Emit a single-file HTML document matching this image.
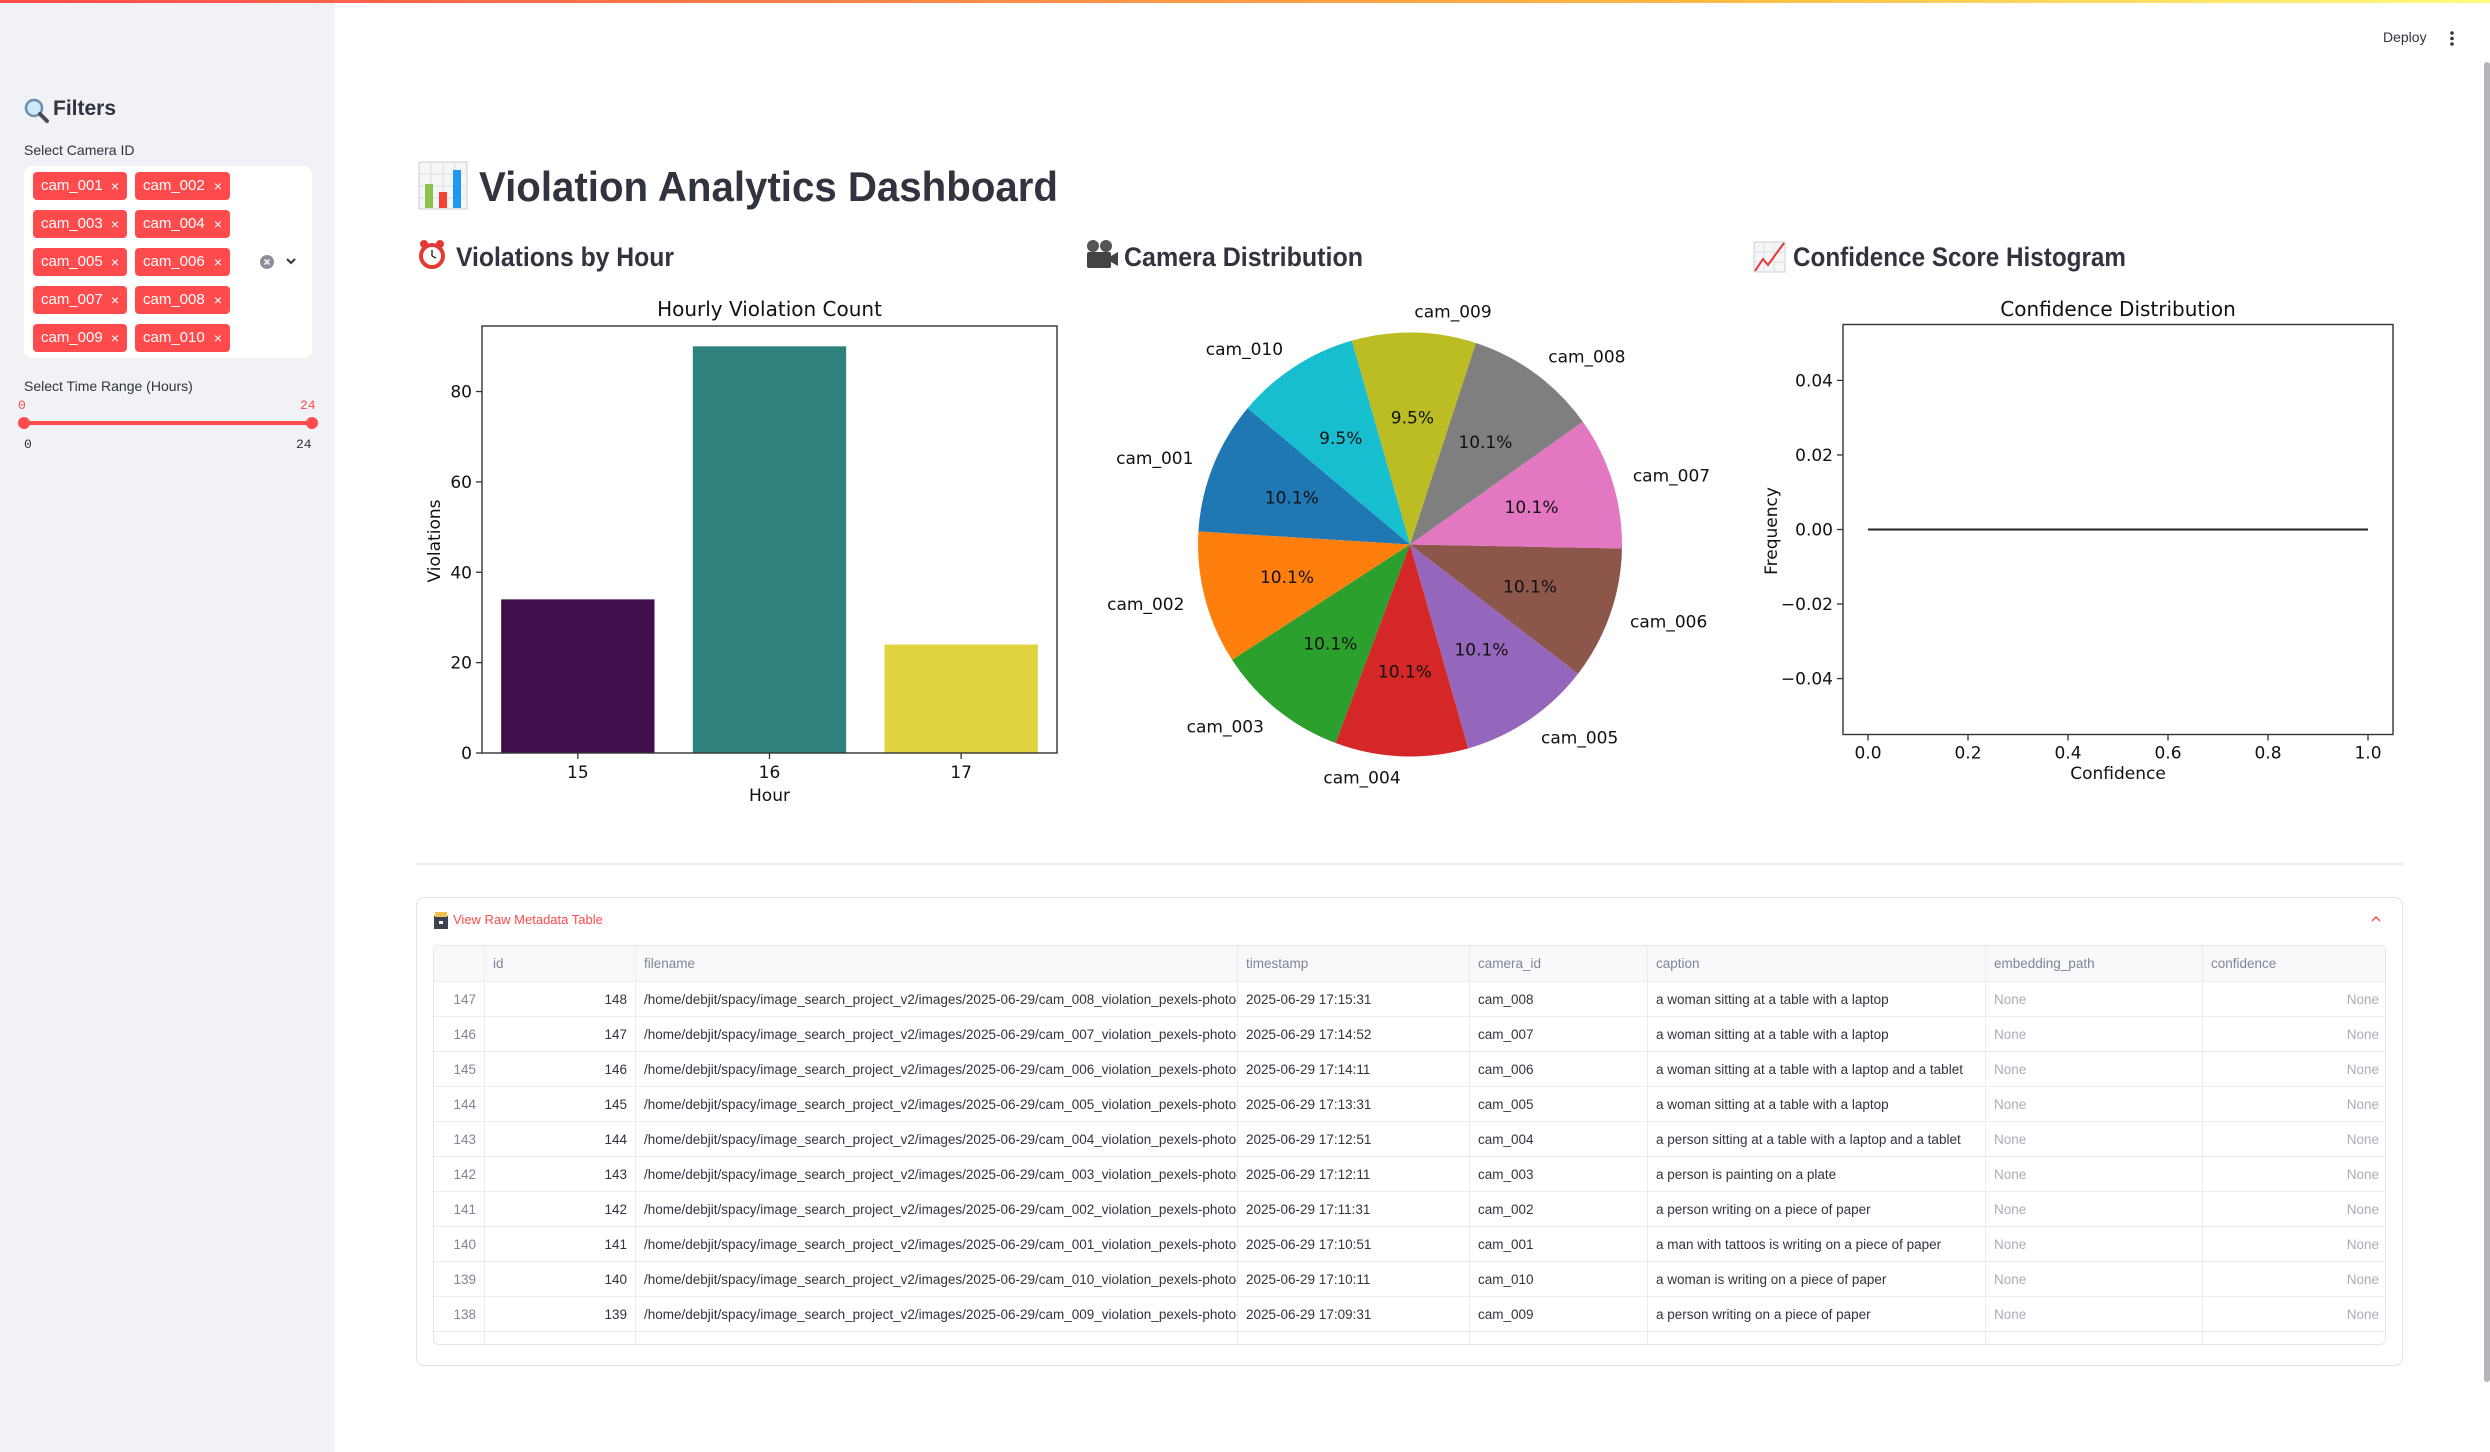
<!DOCTYPE html>
<html><head><meta charset="utf-8">
<style>
*{margin:0;padding:0;box-sizing:border-box}
body{width:2490px;height:1452px;overflow:hidden;background:#fff;font-family:"Liberation Sans",sans-serif;color:#31333f;position:relative}
.abs{position:absolute}
#topbar{left:0;top:0;width:2490px;height:3px;background:linear-gradient(90deg,#ff4b4b,#ffbd45 70%,#fffd80);z-index:5}
#sidebar{left:0;top:0;width:335px;height:1452px;background:#f0f2f6}
.tag{position:absolute;height:28px;background:#ff4b4b;border-radius:4px;color:#fff;font-family:"Liberation Sans Narrow","Liberation Sans",sans-serif;font-size:15px;line-height:28px;padding-left:8px}
.tag span{position:absolute;right:8px;top:0;font-size:14px}
.lbl{font-size:14px;color:#31333f}
.mono{font-family:"Liberation Mono",monospace;font-size:14px}
.cell{position:absolute;height:35px;line-height:35px;font-family:"Liberation Sans Narrow","Liberation Sans",sans-serif;font-size:13.5px;white-space:nowrap;overflow:hidden;padding:0 8px;border-right:1px solid #ececef;border-bottom:1px solid #ececef}
</style></head>
<body>
<div id="sidebar" class="abs">
  <svg class="abs" style="left:24px;top:98px" width="26" height="26"><circle cx="10" cy="10" r="8" fill="#cfe8fb" stroke="#6a8fb0" stroke-width="2.5"/><line x1="16" y1="16" x2="23" y2="23" stroke="#4a4a55" stroke-width="4" stroke-linecap="round"/></svg>
  <div class="abs" style="left:53px;top:97px;font-size:21px;font-weight:bold">Filters</div>
  <div class="abs lbl" style="left:24px;top:142px">Select Camera ID</div>
  <div class="abs" style="left:24px;top:166px;width:288px;height:192px;background:#fff;border-radius:8px">
    <div class="tag" style="left:9px;top:6px;width:94px">cam_001<span>×</span></div>
    <div class="tag" style="left:111px;top:6px;width:95px">cam_002<span>×</span></div>
    <div class="tag" style="left:9px;top:44px;width:94px">cam_003<span>×</span></div>
    <div class="tag" style="left:111px;top:44px;width:95px">cam_004<span>×</span></div>
    <div class="tag" style="left:9px;top:82px;width:94px">cam_005<span>×</span></div>
    <div class="tag" style="left:111px;top:82px;width:95px">cam_006<span>×</span></div>
    <div class="tag" style="left:9px;top:120px;width:94px">cam_007<span>×</span></div>
    <div class="tag" style="left:111px;top:120px;width:95px">cam_008<span>×</span></div>
    <div class="tag" style="left:9px;top:158px;width:94px">cam_009<span>×</span></div>
    <div class="tag" style="left:111px;top:158px;width:95px">cam_010<span>×</span></div>
    <svg class="abs" style="left:236px;top:88px" width="40" height="16"><circle cx="7" cy="8" r="7" fill="#8d8e98"/><path d="M4.5 5.5l5 5M9.5 5.5l-5 5" stroke="#fff" stroke-width="1.5"/><path d="M27 5l4 4 4-4" fill="none" stroke="#31333f" stroke-width="2"/></svg>
  </div>
  <div class="abs lbl" style="left:24px;top:378px">Select Time Range (Hours)</div>
  <div class="abs mono" style="left:18px;top:398px;color:#ff4b4b;font-size:13px">0</div>
  <div class="abs mono" style="left:300px;top:398px;color:#ff4b4b;font-size:13px">24</div>
  <div class="abs" style="left:24px;top:421px;width:288px;height:4px;background:#ff4b4b;border-radius:2px"></div>
  <div class="abs" style="left:18px;top:417px;width:12px;height:12px;background:#ff4b4b;border-radius:50%"></div>
  <div class="abs" style="left:306px;top:417px;width:12px;height:12px;background:#ff4b4b;border-radius:50%"></div>
  <div class="abs mono" style="left:24px;top:437px;font-size:13px">0</div>
  <div class="abs mono" style="left:296px;top:437px;font-size:13px">24</div>
</div>
<div id="topbar" class="abs"></div>
<div class="abs" style="left:2383px;top:29px;font-size:14px">Deploy</div>
<svg class="abs" style="left:2448px;top:30px" width="8" height="18"><circle cx="4" cy="3" r="1.8" fill="#31333f"/><circle cx="4" cy="8.5" r="1.8" fill="#31333f"/><circle cx="4" cy="14" r="1.8" fill="#31333f"/></svg>
<div class="abs" style="left:2484px;top:62px;width:6px;height:1320px;background:#b4b4b9;border-radius:3px"></div>

<svg id="main" class="abs" style="left:0;top:0" width="2490" height="880" font-family="'DejaVu Sans',sans-serif">
  <g><rect x="419" y="162" width="48" height="47" fill="#f4f6f8" stroke="#c8ccd2"/><path d="M419 174h48M419 186h48M419 198h48M431 162v47M443 162v47M455 162v47" stroke="#dde1e6"/><rect x="425" y="184" width="8" height="24" fill="#8bc34a"/><rect x="439" y="192" width="8" height="16" fill="#f44336"/><rect x="453" y="170" width="8" height="38" fill="#2196f3"/></g>
  <text x="479" y="201" font-family="'Liberation Sans',sans-serif" font-weight="bold" font-size="42" fill="#31333f" textLength="579" lengthAdjust="spacingAndGlyphs">Violation Analytics Dashboard</text>
  <g><circle cx="432" cy="256" r="11" fill="#fff" stroke="#e53935" stroke-width="4"/><circle cx="424" cy="244" r="4" fill="#e53935"/><circle cx="440" cy="244" r="4" fill="#e53935"/><path d="M432 256v-6M432 256l4 2" stroke="#333" stroke-width="1.5"/></g>
  <text x="456" y="266" font-family="'Liberation Sans',sans-serif" font-weight="bold" font-size="27" fill="#31333f" textLength="218" lengthAdjust="spacingAndGlyphs">Violations by Hour</text>
  <g><circle cx="1093" cy="246" r="6" fill="#555"/><circle cx="1106" cy="246" r="6" fill="#555"/><rect x="1087" y="252" width="24" height="16" rx="2" fill="#444"/><path d="M1111 256l7-4v14l-7-4z" fill="#444"/></g>
  <text x="1124" y="266" font-family="'Liberation Sans',sans-serif" font-weight="bold" font-size="27" fill="#31333f" textLength="239" lengthAdjust="spacingAndGlyphs">Camera Distribution</text>
  <g><rect x="1754" y="242" width="31" height="30" fill="#f4f6f8" stroke="#cdd2d8"/><path d="M1754 252h31M1754 262h31M1764 242v30M1774 242v30" stroke="#dde1e6"/><path d="M1755 271l8-12 5 6 16-22" fill="none" stroke="#e53935" stroke-width="2"/></g>
  <text x="1793" y="266" font-family="'Liberation Sans',sans-serif" font-weight="bold" font-size="27" fill="#31333f" textLength="333" lengthAdjust="spacingAndGlyphs">Confidence Score Histogram</text>
  <g id="barChart"></g>
  <g id="pieChart"></g>
  <g id="histChart"></g>
  <line x1="416" y1="864" x2="2403" y2="864" stroke="#e6e6ea" stroke-width="1.5"/>
</svg>

<div class="abs" style="left:416px;top:897px;width:1987px;height:469px;border:1px solid #e2e3e8;border-radius:8px"></div>
<svg class="abs" style="left:433px;top:912px" width="16" height="18"><rect x="1" y="4" width="14" height="13" fill="#3c4250"/><rect x="2" y="0" width="12" height="5" fill="#f2c14e"/><rect x="6" y="9" width="4" height="3" fill="#fff"/></svg>
<div class="abs" style="left:453px;top:912px;font-size:13px;color:#ff4b4b;font-family:'Liberation Sans Narrow','Liberation Sans',sans-serif">View Raw Metadata Table</div>
<svg class="abs" style="left:2370px;top:914px" width="12" height="10"><path d="M2 7l4-4 4 4" fill="none" stroke="#ff4b4b" stroke-width="1.5"/></svg>
<div id="table" class="abs" style="left:433px;top:945px;width:1953px;height:400px;border:1px solid #e6e6ea;border-radius:6px;overflow:hidden"></div>

<script>
const NS='http://www.w3.org/2000/svg';
function mk(parent,tag,attrs,txt){const e=document.createElementNS(NS,tag);for(const k in attrs)e.setAttribute(k,attrs[k]);if(txt!==undefined)e.textContent=txt;parent.appendChild(e);return e;}

// ---------- Bar chart data ----------
const hours=['15','16','17'];
const violations=[34,90,24];
const barYTicks=[0,20,40,60,80];
const barColors=['#3f0e4b','#2e817c','#e1d23f'];
(function(){
  const g=document.getElementById('barChart');
  const L=482,R=1057,T=326,B=753;
  const ymax=Math.max(...violations)*1.05;
  const y=v=>B-(v/ymax)*(B-T);
  const step=(R-L)/hours.length;
  const x=i=>L+step*(i+0.5);
  violations.forEach((v,i)=>{
    const r=mk(g,'rect',{x:x(i)-step*0.4,y:y(v),width:step*0.8,height:B-y(v),fill:barColors[i%barColors.length]});
    
    
  });
  mk(g,'rect',{x:L,y:T,width:R-L,height:B-T,fill:'none',stroke:'#333',"stroke-width":1.4});
  barYTicks.forEach(t=>{
    mk(g,'line',{x1:L-6,x2:L,y1:y(t),y2:y(t),stroke:'#333',"stroke-width":1.3});
    const tx=mk(g,'text',{x:L-10,y:y(t)+6,"text-anchor":"end","font-size":17,fill:'#111'},String(t));
    
    
  });
  hours.forEach((h,i)=>{
    mk(g,'line',{x1:x(i),x2:x(i),y1:B,y2:B+6,stroke:'#333',"stroke-width":1.3});
    const tx=mk(g,'text',{x:x(i),y:B+25,"text-anchor":"middle","font-size":17,fill:'#111'},h);
    
    
  });
  const t1=mk(g,'text',{x:(L+R)/2,y:316,"text-anchor":"middle","font-size":20,fill:'#111'},'Hourly Violation Count');
  
  const t2=mk(g,'text',{x:(L+R)/2,y:801,"text-anchor":"middle","font-size":17,fill:'#111'},'Hour');
  
  const t3=mk(g,'text',{x:0,y:0,"text-anchor":"middle","font-size":17,fill:'#111',transform:'translate(440,541) rotate(-90)'},'Violations');
  
})();

// ---------- Pie chart data ----------
const cameras=['cam_001','cam_002','cam_003','cam_004','cam_005','cam_006','cam_007','cam_008','cam_009','cam_010'];
const cameraCounts=[15,15,15,15,15,15,15,15,14,14];
const pieColors=['#1f77b4','#ff7f0e','#2ca02c','#d62728','#9467bd','#8c564b','#e377c2','#7f7f7f','#bcbd22','#17becf'];
(function(){
  const g=document.getElementById('pieChart');
  const cx=1410,cy=544.5,r=212;
  const total=cameraCounts.reduce((a,b)=>a+b,0);
  let a=140;
  const pt=(deg,rr)=>[cx+rr*Math.cos(deg*Math.PI/180),cy-rr*Math.sin(deg*Math.PI/180)];
  cameraCounts.forEach((c,i)=>{
    const sweep=c/total*360;const a1=a+sweep;
    const p0=pt(a,r),p1=pt(a1,r);
    const s=mk(g,'path',{d:`M${cx},${cy}L${p0[0]},${p0[1]}A${r},${r} 0 ${sweep>180?1:0} 0 ${p1[0]},${p1[1]}Z`,fill:pieColors[i]});
    
    
    const mid=a+sweep/2;
    const lp=pt(mid,r*1.1);
    const lt=mk(g,'text',{x:lp[0],y:lp[1]+6,"text-anchor":Math.cos(mid*Math.PI/180)>0?'start':'end',"font-size":17,fill:'#111'},cameras[i]);
    
    
    const pp=pt(mid,r*0.6);
    const pc=mk(g,'text',{x:pp[0],y:pp[1]+6,"text-anchor":"middle","font-size":17,fill:'#111'},(c/total*100).toFixed(1)+'%');
    
    
    a=a1;
  });
})();

// ---------- Histogram data ----------
const confidenceValues=[];
const confXTicks=[0.0,0.2,0.4,0.6,0.8,1.0];
const freqYTicks=[-0.04,-0.02,0.00,0.02,0.04];
(function(){
  const g=document.getElementById('histChart');
  const L=1843,R=2393,T=324.5,B=734.5;
  const nb=10;const counts=new Array(nb).fill(0);
  confidenceValues.forEach(v=>{counts[Math.min(nb-1,Math.floor(v*nb))]++;});
  const cmax=Math.max(...counts);
  const y0=cmax>0?0:-0.055, y1=cmax>0?cmax*1.05:0.055;
  const x=v=>L+(v+0.05)/1.1*(R-L);
  const y=v=>B-(v-y0)/(y1-y0)*(B-T);
  counts.forEach((c,i)=>{
    const xa=x(i/nb),xb=x((i+1)/nb);
    const p=mk(g,'path',{d:`M${xa},${y(0)}L${xa},${y(c)}L${xb},${y(c)}L${xb},${y(0)}`,fill:c>0?'#1f77b4':'none',stroke:'#222',"stroke-width":2});
    
    
  });
  mk(g,'rect',{x:L,y:T,width:R-L,height:B-T,fill:'none',stroke:'#333',"stroke-width":1.4});
  freqYTicks.forEach(t=>{
    mk(g,'line',{x1:L-6,x2:L,y1:y(t),y2:y(t),stroke:'#333',"stroke-width":1.3});
    const tx=mk(g,'text',{x:L-10,y:y(t)+6,"text-anchor":"end","font-size":17,fill:'#111'},(t<0?'\u2212':'')+Math.abs(t).toFixed(2));
    
    
  });
  confXTicks.forEach(t=>{
    mk(g,'line',{x1:x(t),x2:x(t),y1:B,y2:B+6,stroke:'#333',"stroke-width":1.3});
    const tx=mk(g,'text',{x:x(t),y:B+24,"text-anchor":"middle","font-size":17,fill:'#111'},t.toFixed(1));
    
    
  });
  const t1=mk(g,'text',{x:(L+R)/2,y:316,"text-anchor":"middle","font-size":20,fill:'#111'},'Confidence Distribution');
  
  const t2=mk(g,'text',{x:(L+R)/2,y:779,"text-anchor":"middle","font-size":17,fill:'#111'},'Confidence');
  
  const t3=mk(g,'text',{x:0,y:0,"text-anchor":"middle","font-size":17,fill:'#111',transform:'translate(1777,531) rotate(-90)'},'Frequency');
  
})();

// ---------- Table ----------
const colNames=['','id','filename','timestamp','camera_id','caption','embedding_path','confidence'];
const colX=[0,51,202,804,1036,1214,1552,1769,1953];
const rowIdx=[147,146,145,144,143,142,141,140,139,138,137];
const rowIds=[148,147,146,145,144,143,142,141,140,139,138];
const rowCams=['cam_008','cam_007','cam_006','cam_005','cam_004','cam_003','cam_002','cam_001','cam_010','cam_009','cam_008'];
const rowTimes=['17:15:31','17:14:52','17:14:11','17:13:31','17:12:51','17:12:11','17:11:31','17:10:51','17:10:11','17:09:31','17:08:51'];
const rowCaps=['a woman sitting at a table with a laptop','a woman sitting at a table with a laptop','a woman sitting at a table with a laptop and a tablet','a woman sitting at a table with a laptop','a person sitting at a table with a laptop and a tablet','a person is painting on a plate','a person writing on a piece of paper','a man with tattoos is writing on a piece of paper','a woman is writing on a piece of paper','a person writing on a piece of paper','a person is writing on a piece of paper'];
(function(){
  const tb=document.getElementById('table');
  function cell(c,top,txt,opts){
    const d=document.createElement('div');d.className='cell';
    d.style.left=colX[c]+'px';d.style.top=top+'px';d.style.width=(colX[c+1]-colX[c])+'px';
    if(opts.h)d.style.height=opts.h+'px',d.style.lineHeight=opts.h+'px';
    if(opts.bg)d.style.background=opts.bg;
    if(opts.color)d.style.color=opts.color;
    if(opts.right)d.style.textAlign='right';
    if(c===7)d.style.borderRight='none';
    d.textContent=txt;
    
    
    tb.appendChild(d);
  }
  colNames.forEach((n,c)=>cell(c,0,n,{h:36,bg:'#f8f9fb',color:'#808495',name:'header-'+(n||'index').replace('_','-')}));
  rowIds.forEach((id,r)=>{
    const top=36+r*35;
    cell(0,top,String(rowIdx[r]),{color:'#808495',right:1,name:'row-index'});
    cell(1,top,String(id),{right:1,name:'cell-id'});
    cell(2,top,'/home/debjit/spacy/image_search_project_v2/images/2025-06-29/'+rowCams[r]+'_violation_pexels-photo-'+(1000000+id*37)+'.jpeg',{name:'cell-filename'});
    cell(3,top,'2025-06-29 '+rowTimes[r],{name:'cell-timestamp'});
    cell(4,top,rowCams[r],{name:'cell-camera-id'});
    cell(5,top,rowCaps[r],{name:'cell-caption'});
    cell(6,top,'None',{color:'#a9adb9',name:'cell-embedding-path'});
    cell(7,top,'None',{color:'#a9adb9',right:1,name:'cell-confidence'});
  });
})();
</script>
</body></html>
